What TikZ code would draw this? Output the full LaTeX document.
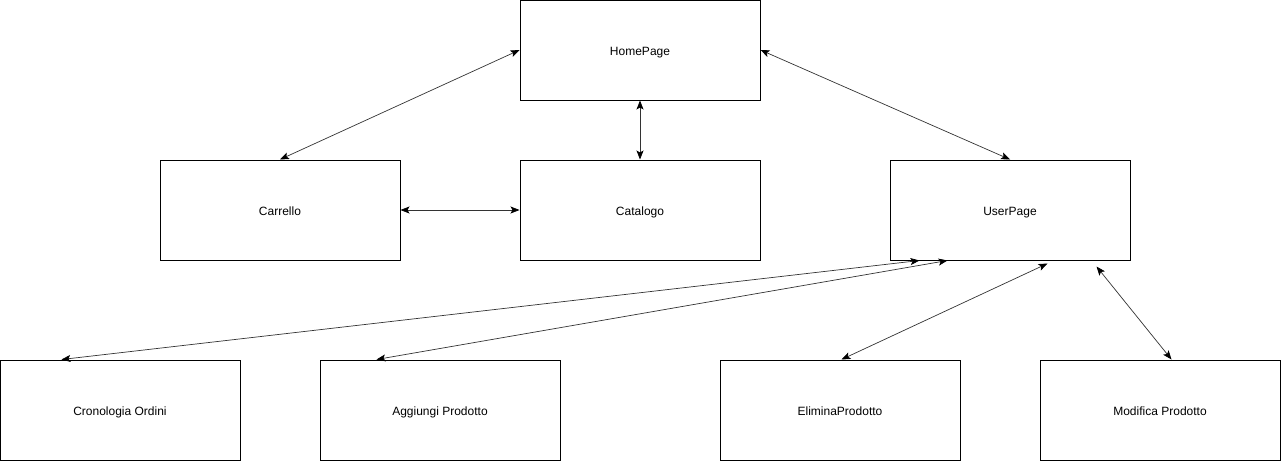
\documentclass[tikz,border=0pt]{standalone}
\usepackage{fontspec}
\setmainfont{Liberation Sans}
\usetikzlibrary{arrows.meta}
\begin{document}
\begin{tikzpicture}[x=1pt,y=-1pt,
  pagebox/.style={draw=black,line width=1pt,fill=white,minimum width=240pt,minimum height=100pt,inner sep=0pt,text height=11pt,text depth=1pt,font=\fontsize{12}{14}\selectfont},
  link/.style={line width=0.7pt,draw=black!80,{Stealth[length=9pt,width=7pt,inset=2pt,black]}-{Stealth[length=9pt,width=7pt,inset=2pt,black]}}]
\useasboundingbox (0,0) rectangle (1281,461);
\node[pagebox] (home) at (640,50) {HomePage};
\node[pagebox] (carr) at (280,210) {Carrello};
\node[pagebox] (cat) at (640,210) {Catalogo};
\node[pagebox] (user) at (1010,210) {UserPage};
\node[pagebox] (cron) at (120,410) {Cronologia Ordini};
\node[pagebox] (agg) at (440,410) {Aggiungi Prodotto};
\node[pagebox] (elim) at (840,410) {EliminaProdotto};
\node[pagebox] (mod) at (1160,410) {Modifica Prodotto};
\draw[link] (home.west) -- (carr.north);
\draw[link] (home.south) -- (cat.north);
\draw[link] (home.east) -- (user.north);
\draw[link] (carr.east) -- (cat.west);
\draw[link] ([xshift=30pt]user.south west) -- ([xshift=62pt]cron.north west);
\draw[link] ([xshift=58pt]user.south west) -- ([xshift=57pt]agg.north west);
\draw[link] ([xshift=158pt,yshift=-3pt]user.south west) -- ([xshift=122pt]elim.north west);
\draw[link] ([xshift=207pt,yshift=-6pt]user.south west) -- ([xshift=132pt]mod.north west);
\end{tikzpicture}
\end{document}
